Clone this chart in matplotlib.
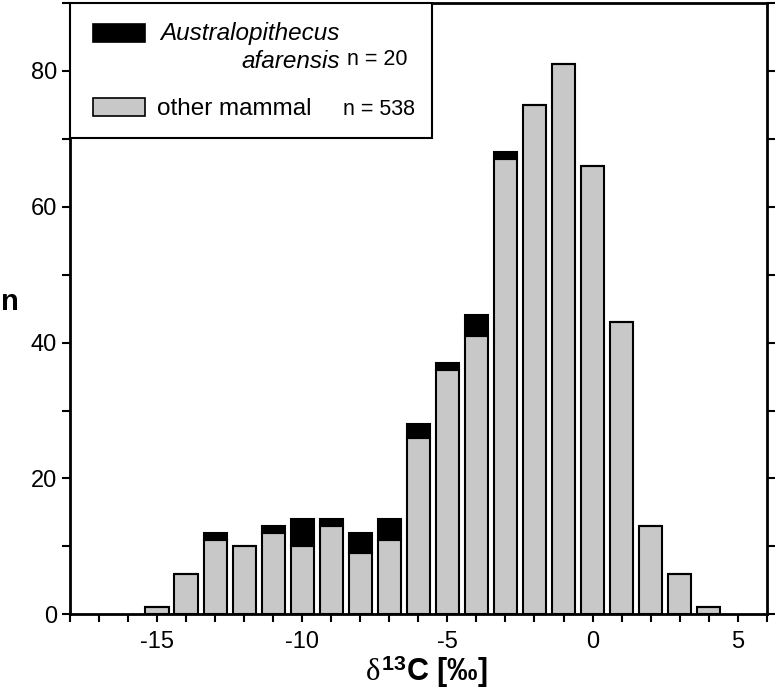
import numpy as np
import matplotlib
matplotlib.use('Agg')
import matplotlib.pyplot as plt
from matplotlib.patches import Rectangle
from matplotlib.ticker import MultipleLocator

plt.rcParams['font.family'] = ['Liberation Sans', 'DejaVu Sans']
plt.rcParams['axes.unicode_minus'] = False
plt.rcParams['mathtext.fontset'] = 'custom'
plt.rcParams['mathtext.rm'] = 'Liberation Sans:bold'
plt.rcParams['mathtext.bf'] = 'Liberation Sans:bold'
plt.rcParams['mathtext.it'] = 'Liberation Serif'

# d13C bins (per mil) and counts
bins = [-15, -14, -13, -12, -11, -10, -9, -8, -7, -6, -5, -4, -3, -2, -1, 0, 1, 2, 3, 4]
other_mammal = [1, 6, 11, 10, 12, 10, 13, 9, 11, 26, 36, 41, 67, 75, 81, 66, 43, 13, 6, 1]
afarensis = [0, 0, 1, 0, 1, 4, 1, 3, 3, 2, 1, 3, 1, 0, 0, 0, 0, 0, 0, 0]

fig = plt.figure(figsize=(7.8, 6.92), dpi=100)
ax = fig.add_axes([0.0897, 0.1123, 0.8933, 0.8834])

ax.bar(bins, other_mammal, width=0.8, color='#c8c8c8', edgecolor='black', linewidth=1.5, zorder=2)
ax.bar(bins, afarensis, width=0.8, bottom=other_mammal, color='black', edgecolor='black',
       linewidth=1.5, zorder=2)

ax.set_xlim(-18, 6)
ax.set_ylim(0, 90)
ax.xaxis.set_major_locator(MultipleLocator(5))
ax.xaxis.set_minor_locator(MultipleLocator(1))
ax.yaxis.set_major_locator(MultipleLocator(20))
ax.yaxis.set_minor_locator(MultipleLocator(10))
ax.tick_params(which='both', direction='out', length=6, width=1.5, labelsize=17,
               right=True, top=False)
ax.tick_params(axis='x', pad=6)
for s in ax.spines.values():
    s.set_linewidth(2)

ax.set_xlabel(r'$\delta^{13}$C [‰]', fontsize=22, fontweight='bold')
ax.xaxis.set_label_coords(0.512, -0.064)
ax.set_ylabel('n', fontsize=21, fontweight='bold', rotation=0, va='center', ha='center')
ax.yaxis.set_label_coords(-0.086, 0.511)

# legend box drawn by hand
t = ax.transAxes
ax.add_patch(Rectangle((0, 0.779), 0.519, 0.221, transform=t, facecolor='white',
                       edgecolor='black', linewidth=1.5, zorder=5, clip_on=False))
ax.add_patch(Rectangle((0.033, 0.936), 0.075, 0.029, transform=t, facecolor='black',
                       edgecolor='black', linewidth=1.2, zorder=6))
ax.add_patch(Rectangle((0.033, 0.815), 0.075, 0.030, transform=t, facecolor='#c8c8c8',
                       edgecolor='black', linewidth=1.2, zorder=6))
ax.text(0.387, 0.9395, 'Australopithecus', transform=t, ha='right', va='baseline',
        fontsize=17.5, style='italic', zorder=7)
ax.text(0.387, 0.8937, 'afarensis', transform=t, ha='right', va='baseline',
        fontsize=17.5, style='italic', zorder=7)
ax.text(0.397, 0.8986, 'n = 20', transform=t, ha='left', va='baseline', fontsize=15.5, zorder=7)
ax.text(0.125, 0.8168, 'other mammal', transform=t, ha='left', va='baseline', fontsize=17.5, zorder=7)
ax.text(0.392, 0.8168, 'n = 538', transform=t, ha='left', va='baseline', fontsize=15.5, zorder=7)

fig.savefig('out.png', dpi=100)
